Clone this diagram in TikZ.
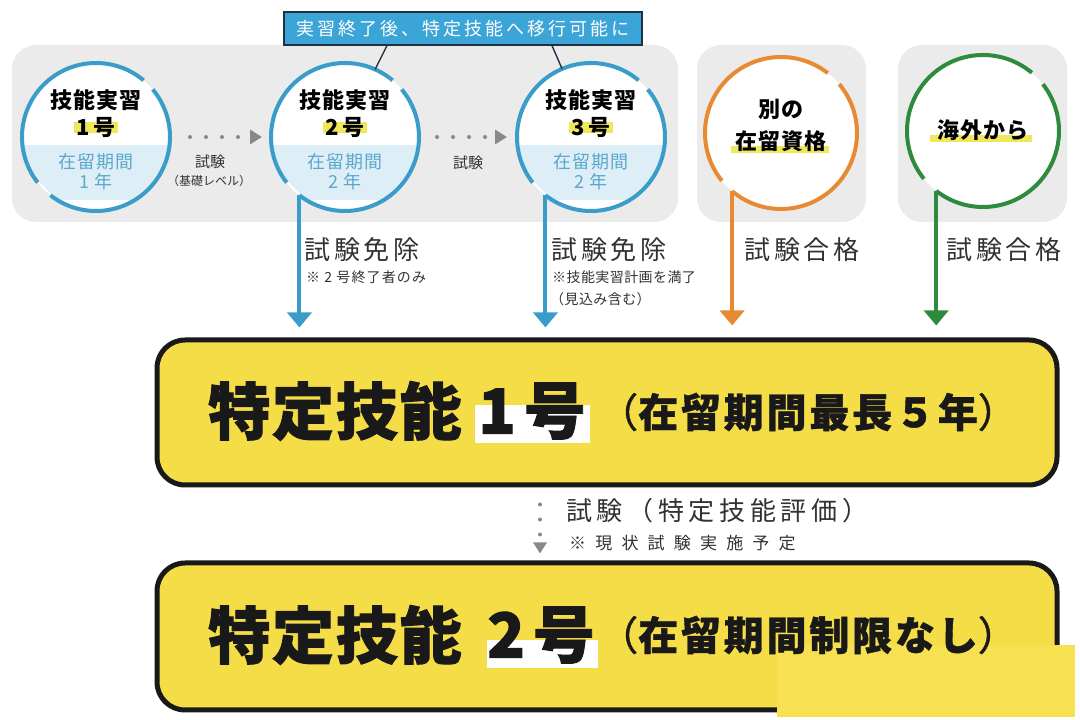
\documentclass[tikz,border=0pt]{standalone}
\usepackage{fontspec}
\setmainfont{Noto Sans CJK JP}
\usetikzlibrary{arrows.meta,calc}
\newcommand\myfs[1]{\fontsize{#1}{#1}\selectfont}
\definecolor{panelgray}{RGB}{235,235,235}
\definecolor{ringblue}{RGB}{58,156,200}
\definecolor{bandblue}{RGB}{221,238,246}
\definecolor{periodblue}{RGB}{92,168,205}
\definecolor{ringorange}{RGB}{232,138,50}
\definecolor{ringgreen}{RGB}{46,139,62}
\definecolor{notefill}{RGB}{60,165,215}
\definecolor{notedark}{RGB}{32,48,64}
\definecolor{boxyellow}{RGB}{245,221,72}
\definecolor{patchyellow}{RGB}{247,224,82}
\definecolor{hlyellow}{RGB}{238,232,90}
\definecolor{txtdark}{RGB}{50,50,50}
\definecolor{dotgray}{RGB}{136,136,136}
\tikzset{
  panel/.style={fill=panelgray, rounded corners=24pt},
  ring/.style={circle, minimum size=#1, inner sep=0pt, outer sep=0pt, fill=white},
  ringline/.style={draw=#1, line width=4pt},
  stem/.style={draw=#1, line width=4pt, -{Triangle[width=24pt,length=15pt,fill=#1]}},
  ctitle/.style={inner sep=0pt, text=black, font=\bfseries\myfs{22}\addfontfeature{LetterSpace=4}},
  cperiod/.style={inner sep=0pt, text=periodblue, font=\myfs{18}\addfontfeature{LetterSpace=6}},
  hdots/.style={draw=dotgray, line width=4pt, line cap=round, dash pattern=on 0pt off 16pt, -{Triangle[width=14pt,length=12pt,fill=dotgray]}},
  vdots/.style={draw=dotgray, line width=4pt, line cap=round, dash pattern=on 0pt off 15pt, -{Triangle[width=13pt,length=11pt,fill=dotgray]}},
  smalllbl/.style={inner sep=0pt, text=txtdark, font=\myfs{15}},
  tinylbl/.style={inner sep=0pt, text=txtdark, font=\myfs{12}},
  biglbl/.style={inner sep=0pt, anchor=west, text=txtdark, font=\myfs{26}\addfontfeature{LetterSpace=15}},
  notelbl/.style={inner sep=0pt, anchor=west, text=txtdark, font=\myfs{14}\addfontfeature{LetterSpace=3}},
  callout/.style={fill=notefill, draw=notedark, line width=1.2pt, minimum width=358pt, minimum height=33pt, inner sep=0pt, text=white, font=\myfs{18}\addfontfeature{LetterSpace=17}},
  ybox/.style={fill=boxyellow, draw=black!90, line width=5pt, rounded corners=28pt, minimum width=900pt, inner sep=0pt},
  huge/.style={inner sep=0pt, anchor=west, text=black!90, font=\bfseries\myfs{62}\addfontfeature{LetterSpace=3,FakeBold=1.5}},
  paren/.style={inner sep=0pt, text=black!90, font=\bfseries\myfs{40}\addfontfeature{LetterSpace=7,FakeBold=1}},
  hl/.style={fill=hlyellow},
}
\begin{document}
\begin{tikzpicture}[x=1pt,y=1pt]
\useasboundingbox (0,0) rectangle (1080,720);
\fill[white] (0,0) rectangle (1080,720);
% panels
\fill[panel] (12,498) rectangle (678,675);
\fill[panel] (697,498) rectangle (866,675);
\fill[panel] (898,498) rectangle (1067,675);

% yellow boxes
\node[ybox, minimum height=145pt] (yb1) at (607,307.5) {};
\node[ybox, minimum height=147pt] (yb2) at (607,83.5) {};
\fill[patchyellow] (777,3) rectangle (1075,75);

% callout
\node[callout] (note) at (463,691.5) {実習終了後、特定技能へ移行可能に};

% blue circles
\foreach \n/\cx/\num/\yr in {c1/96/1/1, c2/345/2/2, c3/591/3/2} {
  \node[ring=148pt] (\n) at (\cx,583) {};
  \begin{scope}
    \clip (\n.center) circle (72);
    \fill[bandblue] (\cx-80,575) rectangle (\cx+80,520);
  \end{scope}
  \draw[ringline=ringblue] (\n.232) arc[start angle=232,end angle=400,radius=74];
  \draw[ringline=ringblue] (\n.50) arc[start angle=50,end angle=218,radius=74];
  \node[ctitle] at (\cx,620) {技能実習};
  \fill[hl] (\cx-22,587) rectangle (\cx+22,598);
  \node[ctitle] at (\cx,593) {\num\kern4pt 号};
  \node[cperiod] at (\cx,558) {在留期間};
  \node[cperiod] at (\cx,538) {\yr\kern6pt 年};
}

% orange circle
\node[ring=152pt] (c4) at (781,587) {};
\draw[ringline=ringorange] (c4.230) arc[start angle=230,end angle=400,radius=76];
\draw[ringline=ringorange] (c4.52) arc[start angle=52,end angle=219,radius=76];
\node[ctitle] at (781,611) {別の};
\fill[hl] (731,567) rectangle (829,574);
\node[ctitle] at (781,579) {在留資格};

% green circle
\node[ring=152pt] (c5) at (983,589) {};
\draw[ringline=ringgreen] (c5.232) arc[start angle=232,end angle=398,radius=76];
\draw[ringline=ringgreen] (c5.50) arc[start angle=50,end angle=219,radius=76];
\fill[hl] (930,578) rectangle (1032,585);
\node[ctitle] at (983,590) {海外から};

% callout leaders
\draw[notedark, line width=1.4pt] (note.south -| 387,0) -- (c2.66);
\draw[notedark, line width=1.4pt] (note.south -| 552,0) -- (c3.113);

% horizontal dotted arrows
\draw[hdots] ($(c1.east)+(20,0)$) -- ($(c2.west)+(-9,0)$);
\node[smalllbl] at (210,558) {試験};
\node[tinylbl] at (209,539) {（基礎レベル）};
\draw[hdots] ($(c2.east)+(18,0)$) -- ($(c3.west)+(-10,0)$);
\node[smalllbl] at (468,557) {試験};

% stems
\draw[stem=ringblue] (c2.232) -- ($(c2.232 |- yb1.north)+(0,10)$);
\draw[stem=ringblue] (c3.232) -- ($(c3.232 |- yb1.north)+(0,10)$);
\draw[stem=ringorange] (c4.230) -- ($(c4.230 |- yb1.north)+(0,12)$);
\draw[stem=ringgreen] (c5.232) -- ($(c5.232 |- yb1.north)+(0,12)$);

% stem labels
\node[biglbl] at (304,470) {試験免除};
\node[notelbl, font=\myfs{14}\addfontfeature{LetterSpace=8}] at (306,443) {※ 2 号終了者のみ};
\node[biglbl] at (551,470) {試験免除};
\node[notelbl] at (552,443) {※技能実習計画を満了};
\node[notelbl] at (550,421) {（見込み含む）};
\node[biglbl] at (744,470) {試験合格};
\node[biglbl] at (946,470) {試験合格};

% box 1 text
\node[huge] at (208,309) {特定技能};
\fill[white] (475,277) rectangle (590,315);
\node[huge] at (478,309) {1\kern8pt 号};
\node[paren] at (808,308) {{\mdseries （}在留期間最長５年{\mdseries ）}};

% middle dotted arrow
\draw[vdots] ($(yb1.south)+(-67,-17)$) -- ($(yb2.north)+(-67,7)$);
\node[inner sep=0pt, anchor=west, text=txtdark, font=\myfs{26}\addfontfeature{LetterSpace=18}] at (566,209) {試験（特定技能評価）};
\node[inner sep=0pt, anchor=west, text=txtdark, font=\myfs{17}\addfontfeature{LetterSpace=54}] at (569,177) {※現状試験実施予定};

% box 2 text
\node[huge] at (208,85) {特定技能};
\fill[white] (487,52) rectangle (598,80);
\node[huge] at (487,85) {2\kern8pt 号};
\node[paren] at (808,85) {{\mdseries （}在留期間制限なし{\mdseries ）}};
\end{tikzpicture}
\end{document}
